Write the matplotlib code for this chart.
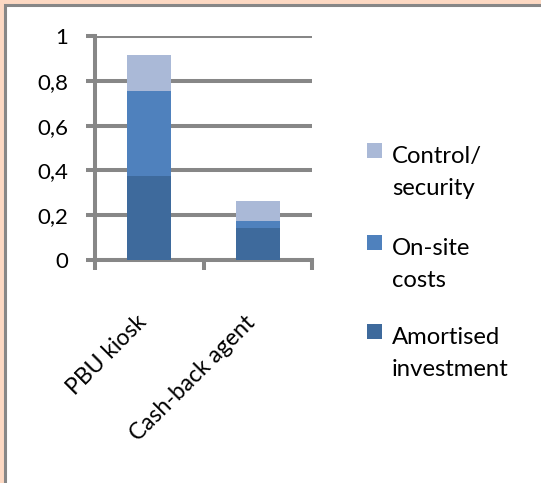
import matplotlib
matplotlib.use("Agg")
import matplotlib.pyplot as plt
from matplotlib.patches import Rectangle
from matplotlib.transforms import ScaledTranslation

categories = ["PBU kiosk", "Cash-back agent"]
amortised = [0.375, 0.145]
onsite = [0.38, 0.03]
control = [0.16, 0.09]
series_names = ["Amortised\ninvestment", "On-site\ncosts", "Control/\nsecurity"]
yticks = [0, 0.2, 0.4, 0.6, 0.8, 1]
ytick_labels = ["0", "0,2", "0,4", "0,6", "0,8", "1"]

colors = ["#3E6A9C", "#4F81BD", "#AAB9D7"]
gray = "#878787"
W, H = 541, 483
plt.rcParams['font.family'] = ['Lato', 'DejaVu Sans']

fig = plt.figure(figsize=(W / 100, H / 100), dpi=100)
fig.patch.set_facecolor("#FDD9C3")
fig.patches.append(Rectangle((5 / W, -0.05), 1.1, (H - 5) / H + 0.05, transform=fig.transFigure,
                             facecolor="white", edgecolor=gray, linewidth=2.2, zorder=-5))

ax = fig.add_axes([95 / W, 1 - 260 / H, (312 - 95) / W, (260 - 36) / H])
ax.set_facecolor("none")
x = list(range(len(categories)))
bw = 0.405
bottoms = [0] * len(categories)
handles = []
for vals, col, name in zip([amortised, onsite, control], colors, series_names):
    b = ax.bar(x, vals, bw, bottom=bottoms, color=col, edgecolor="none", zorder=3, label=name)
    handles.append(b)
    bottoms = [bb + v for bb, v in zip(bottoms, vals)]

lw = 2.9
ax.set_xlim(-0.5, 1.5)
ax.set_ylim(0, 1)
ax.set_yticks(yticks)
ax.set_yticklabels(ytick_labels, fontsize=16)
off = ScaledTranslation(0, -4 / 100, fig.dpi_scale_trans)
for lab in ax.get_yticklabels():
    lab.set_transform(lab.get_transform() + off)
ax.yaxis.grid(True, color=gray, linewidth=lw, zorder=1)
ax.set_axisbelow(True)
for s in ["top", "right"]:
    ax.spines[s].set_visible(False)
for s in ["left", "bottom"]:
    ax.spines[s].set_color(gray)
    ax.spines[s].set_linewidth(lw)
    ax.spines[s].set_zorder(2)
ax.tick_params(axis="y", length=6.5, width=lw, color=gray, pad=13)
ax.set_xticks([-0.5, 0.5, 1.5])
ax.set_xticklabels([])
ax.tick_params(axis="x", which="major", length=7.5, width=lw, color=gray)
ax.set_xticks(x, minor=True)
ax.set_xticklabels(categories, minor=True, fontsize=16.5, rotation=45, ha="right",
                   va="center", rotation_mode="anchor")
ax.tick_params(axis="x", which="minor", length=0, pad=36)
xoff = ScaledTranslation(-6 / 100, -9 / 100, fig.dpi_scale_trans)
for lab in ax.get_xticklabels(minor=True):
    lab.set_transform(lab.get_transform() + xoff)

# legend drawn manually (square aligned with first text line)
leg_order = [2, 1, 0]
sq_tops = [143, 235, 324]
for i, top in zip(leg_order, sq_tops):
    fig.patches.append(Rectangle((367 / W, 1 - (top + 15) / H), 15 / W, 15 / H,
                                 transform=fig.transFigure, facecolor=colors[i],
                                 edgecolor="none"))
    fig.text(392 / W, 1 - (top + 52) / H, series_names[i], fontsize=17.2,
             va="baseline", ha="left", linespacing=1.62)

fig.savefig("out.png", dpi=100, facecolor=fig.get_facecolor())
